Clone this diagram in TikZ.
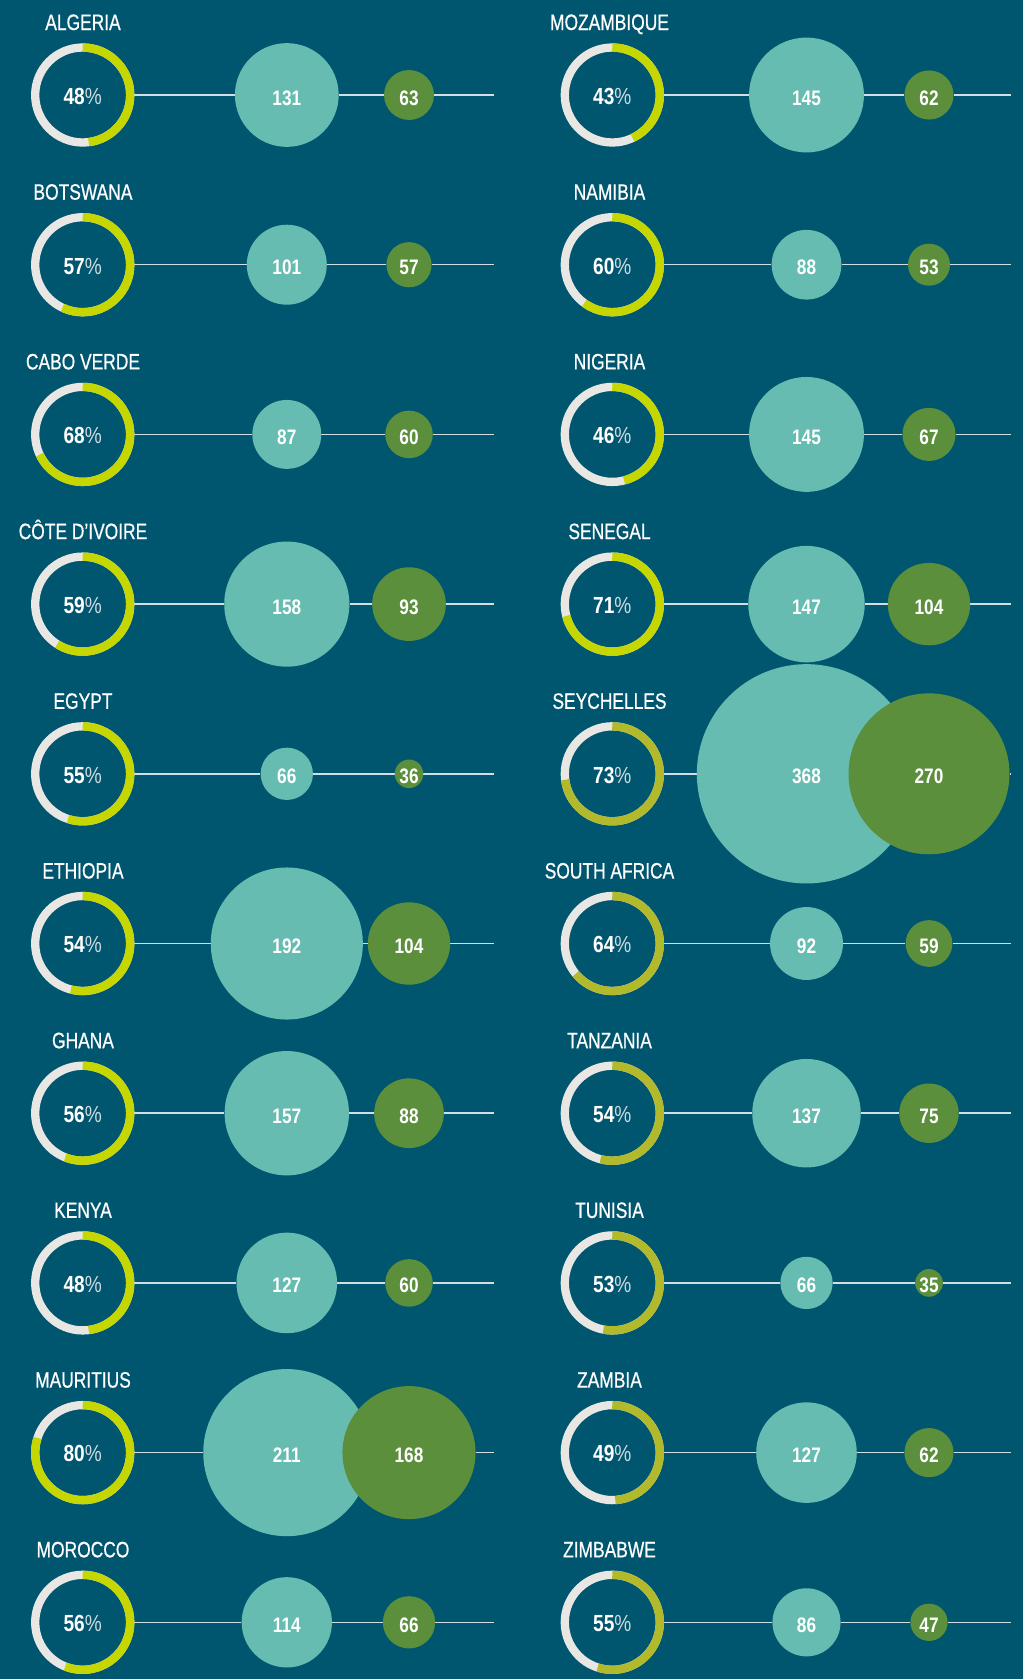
\documentclass[tikz,border=0pt]{standalone}
\usepackage{fontspec}
\newfontfamily\cond{Liberation Sans}[FakeStretch=0.82]
\newfontfamily\condname{Liberation Sans}[FakeStretch=0.78,FakeBold=0.6]
\definecolor{bgblue}{HTML}{00566F}
\definecolor{tealc}{HTML}{66BCB1}
\definecolor{greenc}{HTML}{5B8F3C}
\definecolor{ringbright}{HTML}{C5D600}
\definecolor{ringolive}{HTML}{B2BA2C}
\definecolor{ringgray}{HTML}{E9E7E4}
\definecolor{linec}{HTML}{D2DEE3}
\definecolor{pctc}{HTML}{CFDAE0}
\pgfdeclarelayer{bg}
\pgfdeclarelayer{lines}
\pgfsetlayers{bg,lines,main}
\begin{document}
\begin{tikzpicture}[x=1pt,y=-1pt,
  ringbox/.style={circle, draw=ringgray, line width=8.3pt, minimum size=95pt, inner sep=0pt,
    text=white, text height=18.7pt, text depth=0pt, font={\cond\fontsize{23.3}{26}\selectfont}},
  namebox/.style={anchor=base, inner sep=0pt, text=white, font={\condname\fontsize{22.3}{26}\selectfont}},
  tealbox/.style={circle, fill=tealc, inner sep=0pt, text=white, text height=20pt, text depth=0pt,
    font={\cond\bfseries\fontsize{21}{24}\selectfont}},
  greenbox/.style={circle, fill=greenc, inner sep=0pt, text=white, text height=20pt, text depth=0pt,
    font={\cond\bfseries\fontsize{21}{24}\selectfont}},
  connector/.style={draw=linec, line width=1.5pt},
  arcline/.style={line width=8.3pt}
]
\begin{pgfonlayer}{bg}
\fill[bgblue] (0,0) rectangle (1023,1679);
\end{pgfonlayer}
\useasboundingbox (0,0) rectangle (1023,1679);

% left column
\def\rx{82.7}\def\nx{83}\def\tx{286.8}\def\gx{409}\def\ex{494}\def\colid{L}
\foreach \k/\nm/\p/\a/\b/\rc/\sc in {
  0/ALGERIA/48/131/63/ringbright/0.396,
  1/BOTSWANA/57/101/57/ringbright/0.396,
  2/CABO VERDE/68/87/60/ringbright/0.396,
  3/CÔTE D’IVOIRE/59/158/93/ringbright/0.396,
  4/EGYPT/55/66/36/ringbright/0.396,
  5/ETHIOPIA/54/192/104/ringbright/0.396,
  6/GHANA/56/157/88/ringbright/0.396,
  7/KENYA/48/127/60/ringbright/0.396,
  8/MAURITIUS/80/211/168/ringbright/0.396,
  9/MOROCCO/56/114/66/ringbright/0.396}{
  \pgfmathsetmacro\Y{95+169.7*\k}
  \pgfmathsetmacro\da{2*\sc*\a}
  \pgfmathsetmacro\db{2*\sc*\b}
  \node[namebox] (\colid n\k) at (\nx,\Y-65) {\nm};
  \node[ringbox] (\colid r\k) at (\rx,\Y) {{\bfseries\p}{\color{pctc}\%}};
  \draw[arcline, draw=\rc] (\colid r\k.center) ++(-90:47.5) arc[start angle=-90, end angle={-90+3.6*\p}, radius=47.5];
  \node[tealbox, minimum size=\da pt] (\colid t\k) at (\tx,\Y) {\a};
  \node[greenbox, minimum size=\db pt] (\colid g\k) at (\gx,\Y) {\b};
  \coordinate (\colid e\k) at (\ex,\Y);
  \begin{pgfonlayer}{lines}
  \draw[connector] (\colid r\k) -- (\colid t\k) -- (\colid g\k) -- (\colid e\k);
  \end{pgfonlayer}
}

% right column
\def\rx{612.3}\def\nx{609.5}\def\tx{806.5}\def\gx{929}\def\ex{1010.7}\def\colid{R}
\foreach \k/\nm/\p/\a/\b/\rc/\sc in {
  0/MOZAMBIQUE/43/145/62/ringbright/0.396,
  1/NAMIBIA/60/88/53/ringbright/0.396,
  2/NIGERIA/46/145/67/ringbright/0.396,
  3/SENEGAL/71/147/104/ringbright/0.396,
  4/SEYCHELLES/73/368/270/ringolive/0.298,
  5/SOUTH AFRICA/64/92/59/ringolive/0.396,
  6/TANZANIA/54/137/75/ringolive/0.396,
  7/TUNISIA/53/66/35/ringolive/0.396,
  8/ZAMBIA/49/127/62/ringolive/0.396,
  9/ZIMBABWE/55/86/47/ringolive/0.396}{
  \pgfmathsetmacro\Y{95+169.7*\k}
  \pgfmathsetmacro\da{2*\sc*\a}
  \pgfmathsetmacro\db{2*\sc*\b}
  \node[namebox] (\colid n\k) at (\nx,\Y-65) {\nm};
  \node[ringbox] (\colid r\k) at (\rx,\Y) {{\bfseries\p}{\color{pctc}\%}};
  \draw[arcline, draw=\rc] (\colid r\k.center) ++(-90:47.5) arc[start angle=-90, end angle={-90+3.6*\p}, radius=47.5];
  \node[tealbox, minimum size=\da pt] (\colid t\k) at (\tx,\Y) {\a};
  \node[greenbox, minimum size=\db pt] (\colid g\k) at (\gx,\Y) {\b};
  \coordinate (\colid e\k) at (\ex,\Y);
  \begin{pgfonlayer}{lines}
  \draw[connector] (\colid r\k) -- (\colid t\k) -- (\colid g\k) -- (\colid e\k);
  \end{pgfonlayer}
}
\end{tikzpicture}
\end{document}
